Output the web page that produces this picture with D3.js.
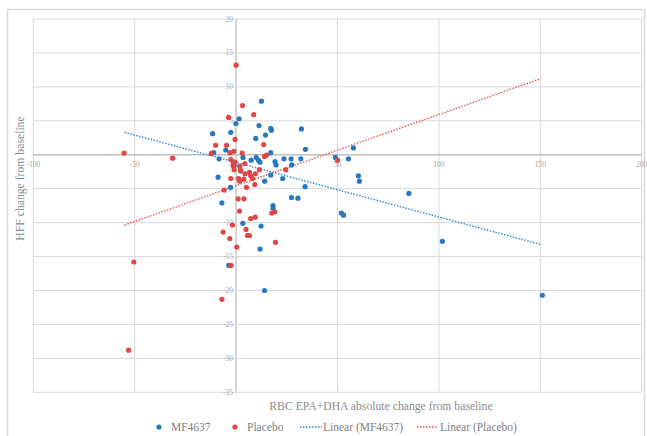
<!DOCTYPE html>
<html><head><meta charset="utf-8">
<script src="https://cdn.jsdelivr.net/npm/d3@7"></script>
<style>body{margin:0;background:#fff}svg{display:block}</style>
</head><body>
<svg id="c" width="647" height="436"></svg>
<script>
const xTicks = [-100,-50,0,50,100,150,200];
const yTicks = [20,15,10,5,0,-5,-10,-15,-20,-25,-30,-35];
const seriesNames = ["MF4637","Placebo"];
const mfPoints = [[12.5,7.9],[1.5,5.3],[-0.1,4.6],[-11.6,3.1],[-2.6,3.3],[11.3,4.3],[17.1,3.9],[17.4,3.6],[14.5,2.9],[9.7,2.4],[32.2,3.8],[34.2,0.8],[17.1,0.3],[-11,0.3],[-5.1,0.7],[-8.4,-0.6],[3.4,-0.4],[7.4,-0.8],[9.9,-0.4],[11,-0.8],[11.8,-1.1],[19.2,-1.0],[19.7,-1.5],[23.6,-0.6],[27.1,-0.6],[31.9,-0.6],[27.4,-1.5],[-1.3,-1.1],[-1.0,-1.6],[2.3,-2.4],[17.1,-3.0],[23,-3.5],[14.1,-3.9],[-8.9,-3.3],[-2.8,-4.8],[34,-4.7],[27.3,-6.3],[30.5,-6.4],[-7.0,-7.1],[18.2,-7.5],[18.2,-7.9],[3.3,-10.1],[12.3,-10.5],[11.8,-13.9],[-3.6,-16.3],[14,-20],[49,-0.4],[57.8,1.0],[55.4,-0.6],[60.3,-3.1],[60.8,-3.9],[85.2,-5.7],[51.9,-8.6],[53,-8.9],[101.7,-12.75],[151,-20.7]];
const placeboPoints = [[0,13.2],[3.2,7.25],[-3.7,5.5],[8.7,5.9],[-0.5,2.25],[-10.1,1.4],[-4.7,1.4],[13.6,1.5],[-12.2,0.2],[-3.1,0.3],[-1.1,0.5],[3,0.25],[14,-0.25],[15,-0.05],[-2.6,-0.7],[-0.6,-1.1],[-1.5,-1.6],[-1,-2.2],[1.8,-1.7],[4.3,-1.3],[2.2,-2.3],[4.4,-2.8],[6.6,-2.6],[7.2,-3.1],[8.1,-3.5],[9.5,-2.8],[11.5,-2.2],[24.5,-2.2],[-2.6,-3.5],[1.2,-3.5],[1.8,-3.9],[3.8,-3.6],[5.1,-4.8],[9.2,-4.4],[-5.9,-5.2],[1,-6.5],[3.9,-6.5],[1.7,-8.3],[7.2,-9.4],[9.4,-9.2],[17.6,-8.6],[19.1,-8.4],[-1.8,-10.35],[-6.4,-11.4],[4.9,-11],[5.6,-11.9],[6.6,-11.9],[-3.1,-12.35],[19.4,-12.9],[0.3,-13.6],[-2.5,-16.3],[-7,-21.3],[-55.2,0.24],[-31.3,-0.5],[-50.4,-15.8],[-53,-28.8],[50,-0.8]];
const trendMF = [[-55,3.3],[150,-13.2]];
const trendPlacebo = [[-55,-10.35],[150,11.18]];

const svg = d3.select("#c");
const font = "'Liberation Serif', 'DejaVu Serif', serif";
const blue = "#2878c0", red = "#e04646";
const x = d3.scaleLinear().domain([-100,200]).range([33.3,641.7]);
const y = d3.scaleLinear().domain([-35,20]).range([392.3,19]);

// outer border
svg.append("rect").attr("x",7.5).attr("y",9.5).attr("width",637).attr("height",440)
  .attr("fill","none").attr("stroke","#d9d9d9").attr("stroke-width",1.5);

// gridlines
const g = svg.append("g");
g.selectAll(".vx").data(xTicks).join("line")
  .attr("x1",d=>x(d)).attr("x2",d=>x(d)).attr("y1",y(20)).attr("y2",y(-35))
  .attr("stroke",d=>d===0?"#bfbfbf":"#d9d9d9").attr("stroke-width",d=>d===0?1.3:1);
g.selectAll(".hy").data(yTicks).join("line")
  .attr("y1",d=>y(d)).attr("y2",d=>y(d)).attr("x1",x(-100)).attr("x2",x(200))
  .attr("stroke",d=>d===0?"#bfbfbf":"#d9d9d9").attr("stroke-width",d=>d===0?1.3:1);

// tick labels
svg.selectAll(".xl").data(xTicks).join("text")
  .attr("x",d=>x(d)).attr("y",y(0)+12).attr("text-anchor","middle")
  .attr("font-family",font).attr("font-size",7.5).attr("fill","#a6a6a6").text(d=>d);
svg.selectAll(".yl").data(yTicks).join("text")
  .attr("x",x(0)-3).attr("y",d=>y(d)+2.5).attr("text-anchor","end")
  .attr("font-family",font).attr("font-size",7.5).attr("fill","#a6a6a6").text(d=>d);

// trendlines
const line = d3.line().x(d=>x(d[0])).y(d=>y(d[1]));
svg.append("path").attr("d",line(trendMF)).attr("stroke","#2e86d0").attr("stroke-width",1.4)
  .attr("stroke-dasharray","1.5,1.5").attr("fill","none");
svg.append("path").attr("d",line(trendPlacebo)).attr("stroke","#e8585a").attr("stroke-width",1.4)
  .attr("stroke-dasharray","1.5,1.5").attr("fill","none");

// points
svg.append("g").selectAll("circle").data(mfPoints).join("circle")
  .attr("cx",d=>x(d[0])).attr("cy",d=>y(d[1])).attr("r",2.6).attr("fill",blue);
svg.append("g").selectAll("circle").data(placeboPoints).join("circle")
  .attr("cx",d=>x(d[0])).attr("cy",d=>y(d[1])).attr("r",2.6).attr("fill",red);

// axis titles
svg.append("text").attr("x",381).attr("y",410).attr("text-anchor","middle")
  .attr("font-family",font).attr("font-size",11.7).attr("fill","#8c8c8c")
  .text("RBC EPA+DHA absolute change from baseline");
svg.append("text").attr("transform","translate(24,178.5) rotate(-90)").attr("text-anchor","middle")
  .attr("font-family",font).attr("font-size",11.7).attr("fill","#8c8c8c")
  .text("HFF change from baseline");

// legend
const lg = svg.append("g").attr("font-family",font).attr("font-size",11.5).attr("fill","#7f7f7f");
lg.append("circle").attr("cx",159).attr("cy",427).attr("r",2.6).attr("fill",blue);
lg.append("text").attr("x",171).attr("y",431).text(seriesNames[0]);
lg.append("circle").attr("cx",235).attr("cy",427).attr("r",2.6).attr("fill",red);
lg.append("text").attr("x",247).attr("y",431).text(seriesNames[1]);
lg.append("line").attr("x1",300).attr("x2",322).attr("y1",427).attr("y2",427)
  .attr("stroke","#2e86d0").attr("stroke-width",1.3).attr("stroke-dasharray","1.5,1.5");
lg.append("text").attr("x",323).attr("y",431).text("Linear ("+seriesNames[0]+")");
lg.append("line").attr("x1",417).attr("x2",438).attr("y1",427).attr("y2",427)
  .attr("stroke","#e8585a").attr("stroke-width",1.3).attr("stroke-dasharray","1.5,1.5");
lg.append("text").attr("x",440).attr("y",431).text("Linear ("+seriesNames[1]+")");
</script>
</body></html>
